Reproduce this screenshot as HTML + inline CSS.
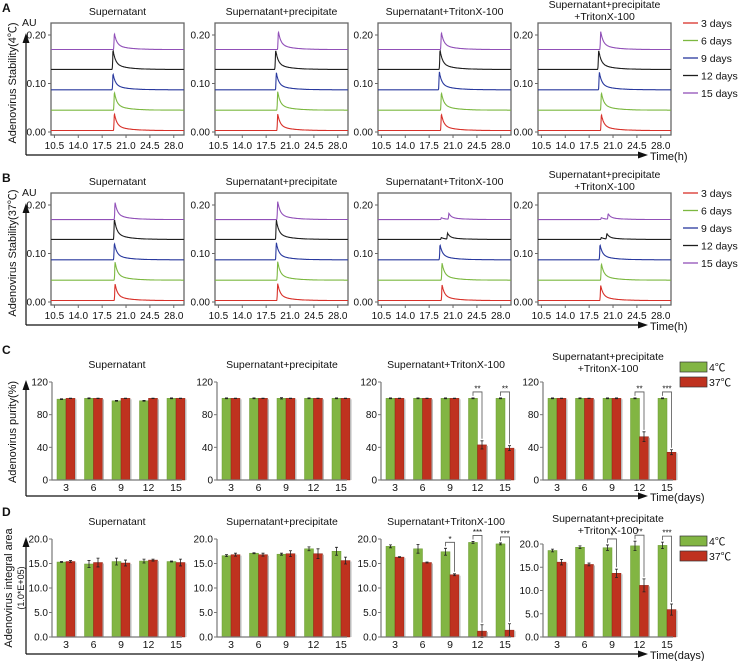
<!DOCTYPE html>
<html><head><meta charset="utf-8"><style>
html,body{margin:0;padding:0;background:#fff}
svg{display:block;font-family:"Liberation Sans","Noto Sans CJK SC",sans-serif}
</style></head><body>
<svg id="fig" width="738" height="661" viewBox="0 0 738 661" xmlns="http://www.w3.org/2000/svg"></svg>
<script>
// ---------- data ----------
const panelTitles = ["Supernatant","Supernatant+precipitate","Supernatant+TritonX-100","Supernatant+precipitate|+TritonX-100"];
const dayLabels = ["3 days","6 days","9 days","12 days","15 days"];
const traceBaselines = [0.003,0.045,0.087,0.129,0.170];
const xTicks = [10.5,14.0,17.5,21.0,24.5,28.0];
const auTicks = [0.00,0.10,0.20];
// peaks per panel per trace: [time, height]
const peaksA = [
 [[[19.3,0.035]],[[19.3,0.037]],[[19.1,0.033]],[[19.1,0.04]],[[19.3,0.033]]],
 [[[19.2,0.034]],[[19.2,0.038]],[[19.0,0.035]],[[18.9,0.04]],[[19.3,0.037]]],
 [[[19.3,0.034]],[[19.3,0.036]],[[19.0,0.037]],[[19.1,0.04]],[[19.3,0.035]]],
 [[[19.3,0.033]],[[19.3,0.036]],[[19.0,0.036]],[[18.9,0.04]],[[19.2,0.037]]]
];
const peaksB = [
 [[[19.4,0.034]],[[19.4,0.037]],[[19.3,0.034]],[[19.3,0.042]],[[19.4,0.035]]],
 [[[19.2,0.035]],[[19.2,0.038]],[[19.0,0.035]],[[19.0,0.04]],[[19.2,0.037]]],
 [[[19.4,0.032]],[[19.4,0.035]],[[19.1,0.031]],[[19.3,0.004],[20.2,0.012]],[[19.3,0.004],[20.4,0.012]]],
 [[[19.2,0.031]],[[19.3,0.034]],[[19.1,0.031]],[[19.3,0.004],[20.1,0.011]],[[19.3,0.004],[20.3,0.011]]]
];
const barDays = ["3","6","9","12","15"];
const purityTicks = [0,40,80,120];
const purity4 = [[99,100,97,97,100],[100,100,100,100,100],[100,100,100,100,100],[100,100,100,100,100]];
const purity37 = [[100,100,100,100,100],[100,100,100,100,100],[100,100,100,43,39],[100,100,100,53,34]];
const purityErr4 = [[0.5,0.5,0.5,0.5,0.5],[0.5,0.5,0.8,0.5,0.5],[0.5,0.5,0.5,0.5,0.5],[0.5,0.5,0.5,0.5,0.5]];
const purityErr37 = [[0.3,0.3,0.3,0.3,0.3],[0.3,0.3,0.3,0.3,0.3],[0.3,0.3,0.3,5,3],[0.3,0.3,0.5,6,3]];
const puritySig = [[null,null,null,null,null],[null,null,null,null,null],[null,null,null,"**","**"],[null,null,null,"**","***"]];
const areaTicks = [0,5,10,15,20];
const area4 = [[15.3,14.9,15.4,15.5,15.4],[16.6,17.1,16.9,18.0,17.5],[18.5,18.0,17.4,19.3,19.0],[18.6,19.3,19.2,19.6,19.7]];
const area37 = [[15.4,15.2,15.1,15.7,15.2],[16.8,16.8,17.0,17.0,15.6],[16.3,15.2,12.7,1.2,1.4],[16.1,15.6,13.7,11.1,5.9]];
const areaErr4 = [[0.1,0.7,0.7,0.4,0.1],[0.2,0.1,0.2,0.4,0.8],[0.3,0.9,0.7,0.2,0.2],[0.3,0.3,0.6,1.0,0.7]];
const areaErr37 = [[0.2,0.9,0.6,0.2,0.7],[0.3,0.3,0.6,1.0,0.7],[0.1,0.1,0.2,1.3,1.3],[0.6,0.3,0.9,1.4,1.2]];
const areaSig = [[null,null,null,null,null],[null,null,null,null,null],[null,null,"*","***","***"],[null,null,"*","**","***"]];

const traceColors = ["#d8312a","#7cb840","#28389e","#1e1e1e","#9150b8"];
const G="#82b543", R="#bf321f";
const NS="http://www.w3.org/2000/svg";
const svg=document.getElementById("fig");
function el(tag,attrs,parent,txt){const e=document.createElementNS(NS,tag);for(const k in attrs)e.setAttribute(k,attrs[k]);if(txt!==undefined)e.textContent=txt;(parent||svg).appendChild(e);return e;}
function text(x,y,s,size,anchor,extra){const t=el("text",Object.assign({x:x,y:y,"font-size":size,"text-anchor":anchor||"middle",fill:"#111"},extra||{}),null,s);return t;}

// ---------- chromatogram panels ----------
const cLefts=[51,215,378,538], cW=133;
function chromRow(top,peaks,rowName,ylab){
  const bottom=top+112;
  const ys=v=>top+112-3-(v+0.00)*(97/0.2);
  for(let p=0;p<4;p++){
    const L=cLefts[p];
    const xs=t=>L+(t-10)*(cW/19.5);
    const g=el("g",{});
    
    
    const title=panelTitles[p].split("|");
    title.forEach((s,i)=>{const yy= title.length>1 ? top-15+i*12 : top-8;const t=text(L+cW/2,yy,s,10.5);});
    el("rect",{x:L,y:top,width:cW,height:112,fill:"none",stroke:"#666","stroke-width":1.3},g);
    auTicks.forEach(v=>{el("line",{x1:L-3,x2:L,y1:ys(v),y2:ys(v),stroke:"#666"},g);
      const t=text(L-5,ys(v)+3.5,v.toFixed(2),10,"end");});
    xTicks.forEach(v=>{el("line",{x1:xs(v),x2:xs(v),y1:bottom,y2:bottom+3,stroke:"#666"},g);
      const t=text(xs(v),bottom+14,v.toFixed(1),10);});
    for(let k=0;k<5;k++){
      let d="";
      for(let t=10;t<=29.5;t+=0.04){
        let v=traceBaselines[k];
        peaks[p][k].forEach(pk=>{const dt=t-pk[0];v+= dt>=0? pk[1]*Math.exp(-dt/0.35)*(0.7)+pk[1]*0.3*Math.exp(-dt/1.8) : pk[1]*Math.exp(-Math.pow(dt/0.07,2));});
        d+=(d?"L":"M")+xs(t).toFixed(1)+","+ys(v).toFixed(1);
      }
      const path=el("path",{d:d,fill:"none",stroke:traceColors[k],"stroke-width":1.1},g);
      
      
    }
  }
  const ax=el("path",{d:`M26,${bottom+20}V${top+18}M26,${bottom+20}H640`,stroke:"#111","stroke-width":1.2,fill:"none"});
  
  el("path",{d:`M22.5,${top+20}L26,${top+10}L29.5,${top+20}Z M638,${bottom+16.5}L648,${bottom+20}L638,${bottom+23.5}Z`,fill:"#111"});
  const tl=text(650,bottom+25,"Time(h)",11,"start");
  const au=text(22,top+3,"AU",10.5,"start");
  const yl=text(0,0,ylab,11,"middle",{transform:`translate(16,${top+60}) rotate(-90)`});
  for(let k=0;k<5;k++){
    const y=top+k*17.5;
    const ln=el("line",{x1:683,x2:698,y1:y,y2:y,stroke:traceColors[k],"stroke-width":1.3});
    
    const t=text(701,y+4,dayLabels[k],10.5,"start");
  }
}
chromRow(23,peaksA,"row-a","Adenovirus Stability(4℃)");
chromRow(193,peaksB,"row-b","Adenovirus Stability(37℃)");

// ---------- bar panels ----------
const bLefts=[52,217,381,543], bW=130;
function barRow(top0s,bottom,ticks,vmax,d4,d37,e4,e37,sig,fmt,rowName){
  for(let p=0;p<4;p++){
    const L=bLefts[p], top=top0s[p];
    const ys=v=>bottom-(v/vmax)*(bottom-top);
    const xc=i=>L+14+i*27.5;
    const g=el("g",{});
    
    
    const title=panelTitles[p].split("|");
    title.forEach((s,i)=>{const yy= title.length>1 ? top-22+i*12 : top-14;const t=text(L+bW/2,yy,s,10.5);});
    for(let i=0;i<5;i++){
      const bw=9;
      const gb=el("rect",{x:xc(i)-bw,y:ys(d4[p][i]),width:bw,height:bottom-ys(d4[p][i]),fill:G,stroke:"#6c9a35","stroke-width":0.5},g);
      
      const rb=el("rect",{x:xc(i),y:ys(d37[p][i]),width:bw,height:bottom-ys(d37[p][i]),fill:R,stroke:"#8e2414","stroke-width":0.5},g);
      
      el("rect",{x:xc(i)+bw,y:ys(d37[p][i])+1,width:1.5,height:bottom-ys(d37[p][i])-1,fill:"#bbb"},g);
      [[xc(i)-bw/2,d4[p][i],e4[p][i]],[xc(i)+bw/2,d37[p][i],e37[p][i]]].forEach(a=>{
        el("path",{d:`M${a[0]},${ys(a[1]-a[2])}V${ys(a[1]+a[2])}M${a[0]-1.5},${ys(a[1]-a[2])}h3M${a[0]-1.5},${ys(a[1]+a[2])}h3`,stroke:"#222","stroke-width":0.8,fill:"none"},g);
      });
      if(sig[p][i]){
        const yt=Math.min(ys(d4[p][i]+e4[p][i]),ys(d37[p][i]+e37[p][i]))-6;
        const br=el("path",{d:`M${xc(i)-bw/2},${ys(d4[p][i]+e4[p][i])-2}V${yt}H${xc(i)+bw/2}V${ys(d37[p][i]+e37[p][i])-2}`,stroke:"#555","stroke-width":0.8,fill:"none"},g);
        
        const st=text(xc(i),yt-0.5,sig[p][i],8);
      }
      const xl=text(xc(i),bottom+11,barDays[i],10.5);
    }
    el("path",{d:`M${L},${top}V${bottom}H${L+bW}`,stroke:"#777","stroke-width":1.2,fill:"none"},g);
    ticks.forEach(v=>{el("line",{x1:L-3,x2:L,y1:ys(v),y2:ys(v),stroke:"#777"},g);
      const t=text(L-4,ys(v)+3.5,fmt(v),10,"end");});
  }
}
barRow([382,382,382,382],480,purityTicks,120,purity4,purity37,purityErr4,purityErr37,puritySig,v=>String(v),"row-c");
barRow([539,539,539,544],637,areaTicks,20,area4,area37,areaErr4,areaErr37,areaSig,v=>v.toFixed(1),"row-d");

function bigAxes(top,y,name){
  const a=el("path",{d:`M26,${y}V${top}M26,${y}H640`,stroke:"#111","stroke-width":1.2,fill:"none"});
  
  el("path",{d:`M22.5,${top+2}L26,${top-8}L29.5,${top+2}Z M638,${y-3.5}L648,${y}L638,${y+3.5}Z`,fill:"#111"});
  const t=text(650,y+5,"Time(days)",11,"start");
}
bigAxes(388,496,"row-c-axes");
bigAxes(545,654,"row-d-axes");
let t;
t=text(0,0,"Adenovirus purity(%)",11,"middle",{transform:"translate(16,432) rotate(-90)"});
t=text(0,0,"Adenovirus integral area",11,"middle",{transform:"translate(12,588) rotate(-90)"});
t=text(0,0,"(1.0*E+05)",9,"middle",{transform:"translate(24,588) rotate(-90)"});
[[362,"C"],[536,"D"]].forEach(a=>{
  const y=a[0];
  let r=el("rect",{x:680,y:y,width:27,height:10,fill:G,stroke:"#333","stroke-width":0.7});
  r=el("rect",{x:680,y:y+15,width:27,height:10,fill:R,stroke:"#333","stroke-width":0.7});
  t=text(709,y+9,"4℃",10.5,"start");
  t=text(709,y+24,"37℃",10.5,"start");
});
[["A",12],["B",182],["C",354],["D",516]].forEach(a=>{t=text(2,a[1],a[0],12,"start",{"font-weight":"bold"});});
</script>
</body></html>
